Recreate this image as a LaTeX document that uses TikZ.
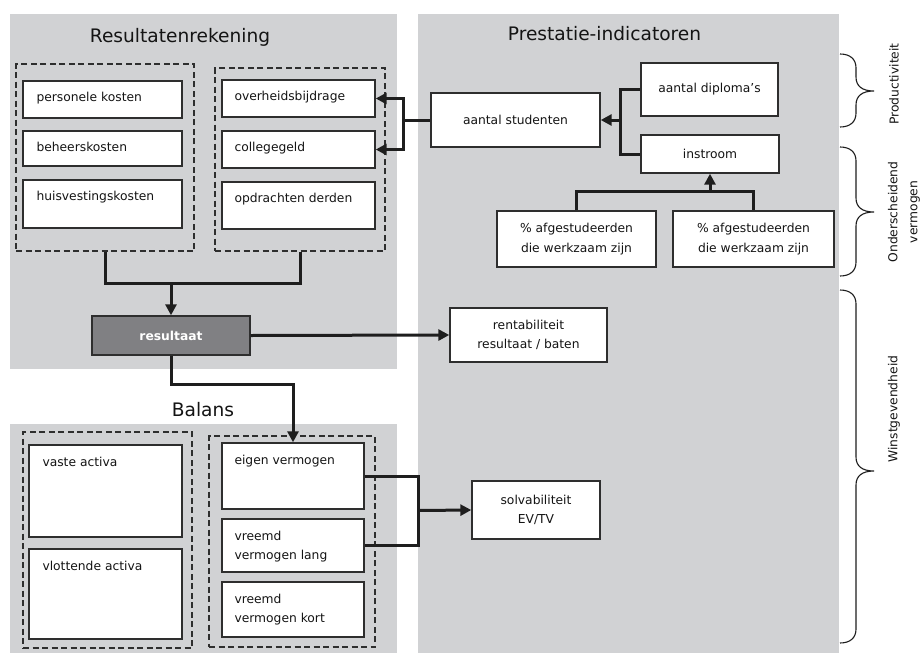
\documentclass[tikz,border=0pt]{standalone}
\usepackage{fontspec}
\setmainfont{DejaVu Sans}
\usetikzlibrary{arrows.meta,calc}

\definecolor{panelgray}{HTML}{D1D2D4}
\definecolor{resgray}{HTML}{808083}
\definecolor{boxline}{HTML}{2E2E2E}
\definecolor{linecol}{HTML}{1E1E1E}
\definecolor{textcol}{HTML}{141414}

% right-hand curly brace: top y, tip y, bottom y
\newcommand{\sidebrace}[3]{%
  \draw[bracestyle] (840,#1) .. controls (850,#1) and (856,#1+5) .. (856,#1+14)
    -- (856,#2-14) .. controls (856,#2-5) and (862,#2) .. (874,#2)
    .. controls (862,#2) and (856,#2+5) .. (856,#2+14)
    -- (856,#3-14) .. controls (856,#3-5) and (850,#3) .. (840,#3);}

\begin{document}
\begin{tikzpicture}[x=1pt,y=-1pt,
  txt/.style={font=\fontsize{12.3}{19.5}\selectfont, text=textcol, inner sep=0pt},
  ttl/.style={font=\fontsize{18.6}{22}\selectfont, text=textcol, inner sep=0pt},
  wbox/.style={rectangle, draw=boxline, line width=1.4pt, fill=white, inner sep=0pt,
    font=\fontsize{12.3}{19.5}\selectfont, text=textcol, align=center},
  grp/.style={rectangle, draw=boxline, line width=2.2pt, dash pattern=on 6pt off 3.5pt, inner sep=0pt},
  resbox/.style={rectangle, draw=boxline, line width=1.4pt, fill=resgray, inner sep=0pt,
    font=\fontsize{12.3}{15}\selectfont\bfseries, text=white},
  conn/.style={draw=linecol, line width=3pt},
  arr/.style={conn, -{Triangle[length=11pt,width=11pt]}},
  arrboth/.style={conn, {Triangle[length=11pt,width=11pt]}-{Triangle[length=11pt,width=11pt]}},
  bracestyle/.style={draw=linecol, line width=1.1pt},
  sidelbl/.style={font=\fontsize{12.3}{20}\selectfont, text=textcol, inner sep=0pt, align=center, rotate=90}]

\fill[white] (0,0) rectangle (920,653);
\useasboundingbox (0,0) rectangle (920,653);

% background panels
\fill[panelgray] (10,14) rectangle (397,369);
\fill[panelgray] (418,14) rectangle (839,653);
\fill[panelgray] (10,424) rectangle (397,653);

% panel titles
\node[ttl, anchor=base] (t-res) at (180,42.7) {Resultatenrekening};
\node[ttl, anchor=base] (t-pi) at (604.5,40) {Prestatie-indicatoren};
\node[ttl, anchor=base] (t-bal) at (203,416.7) {Balans};

% Resultatenrekening: cost and revenue groups
\node[grp, minimum width=178, minimum height=187] (dl) at (105,157.5) {};
\node[grp, minimum width=170, minimum height=183] (dr) at (300,159.5) {};

\node[wbox, minimum width=159, minimum height=37] (pk) at (102.5,99.5) {};
\node[wbox, minimum width=159, minimum height=35] (bk) at (102.5,148.5) {};
\node[wbox, minimum width=159, minimum height=48] (hk) at (102.5,204) {};
\node[wbox, minimum width=153, minimum height=37] (ob) at (298.5,98.5) {};
\node[wbox, minimum width=153, minimum height=37] (cg) at (298.5,149.5) {};
\node[wbox, minimum width=153, minimum height=47] (od) at (298.5,205.5) {};

\node[txt, anchor=base west] (pk-t) at ($(pk.north west)+(14,21.5)$) {personele kosten};
\node[txt, anchor=base west] (bk-t) at ($(bk.north west)+(14,21.5)$) {beheerskosten};
\node[txt, anchor=base west] (hk-t) at ($(hk.north west)+(14,21.5)$) {huisvestingskosten};
\node[txt, anchor=base west] (ob-t) at ($(ob.north west)+(13,21.5)$) {overheidsbijdrage};
\node[txt, anchor=base west] (cg-t) at ($(cg.north west)+(13,21.5)$) {collegegeld};
\node[txt, anchor=base west] (od-t) at ($(od.north west)+(13,21.5)$) {opdrachten derden};

\node[resbox, minimum width=158, minimum height=39] (res) at (171,335.5) {resultaat};

% Balans
\node[grp, minimum width=169, minimum height=216] (bdl) at (107.5,540) {};
\node[grp, minimum width=166, minimum height=211] (bdr) at (292,541.5) {};

\node[wbox, minimum width=153, minimum height=92] (va) at (105.5,491) {};
\node[wbox, minimum width=153, minimum height=90] (vla) at (105.5,594) {};
\node[wbox, minimum width=142, minimum height=66] (ev) at (293,476) {};
\node[wbox, minimum width=142, minimum height=53] (vl) at (293,545.5) {};
\node[wbox, minimum width=142, minimum height=55] (vk) at (293,609.5) {};

\node[txt, anchor=base west] (va-t) at ($(va.north west)+(14,22.5)$) {vaste activa};
\node[txt, anchor=base west] (vla-t) at ($(vla.north west)+(14,22.5)$) {vlottende activa};
\node[txt, anchor=base west] (ev-t) at ($(ev.north west)+(13,22)$) {eigen vermogen};
% two-line texts: the base anchor sits on the last line
\node[txt, anchor=base west, align=left] (vl-t) at ($(vl.north west)+(13,41.5)$) {vreemd\\vermogen lang};
\node[txt, anchor=base west, align=left] (vk-t) at ($(vk.north west)+(13,41.5)$) {vreemd\\vermogen kort};

% Prestatie-indicatoren
\node[wbox, minimum width=169, minimum height=54] (stud) at (515.5,120) {aantal studenten};
\node[wbox, minimum width=137, minimum height=53] (dipl) at (709.5,89.5) {aantal diploma’s};
\node[wbox, minimum width=138, minimum height=38] (instr) at (710,154) {instroom};
\node[wbox, minimum width=159, minimum height=56] (af1) at (576.5,239) {\% afgestudeerden\\die werkzaam zijn};
\node[wbox, minimum width=161, minimum height=56] (af2) at (753.5,239) {\% afgestudeerden\\die werkzaam zijn};
\node[wbox, minimum width=157, minimum height=54] (rent) at (528.5,335) {rentabiliteit\\resultaat / baten};
\node[wbox, minimum width=128, minimum height=58] (solv) at (536,510) {solvabiliteit\\EV/TV};

% junction points
\coordinate (j1) at (403,120);
\coordinate (j2) at (620,120);
\coordinate (j3) at (710,191);
\coordinate (j4) at (171,283);
\coordinate (j5) at (232,384);
\coordinate (j6) at (418,510.5);

% connectors
\draw[arrboth] (ob.east) -| (j1) |- (cg.east);
\draw[conn] (j1) -- (stud.west);
\draw[conn] (dipl.west) -| (j2) |- (instr.west);
\draw[arr] (j2) -- (stud.east);
\draw[conn] (af1.north) |- (j3) -| (af2.north);
\draw[arr] (j3) -- (instr.south);
\draw[conn] (dl.south) |- (j4) -| (dr.south);
\draw[arr] (j4) -- (res.north);
\draw[arr] (res.east) -- (rent.west);
\draw[arr] (res.south) |- (j5) -| (ev.north);
\draw[conn] (ev.east) -| (j6) |- (vl.east);
\draw[arr] (j6) -- (solv.west);

% side braces and their labels
\sidebrace{54}{91}{127}
\sidebrace{147}{212}{276}
\sidebrace{290}{471}{643}
\node[sidelbl] (l-prod) at (894,84) {Productiviteit};
\node[sidelbl] (l-ond) at (904,212) {Onderscheidend\\vermogen};
\node[sidelbl] (l-win) at (894,409) {Winstgevendheid};

\end{tikzpicture}
\end{document}
